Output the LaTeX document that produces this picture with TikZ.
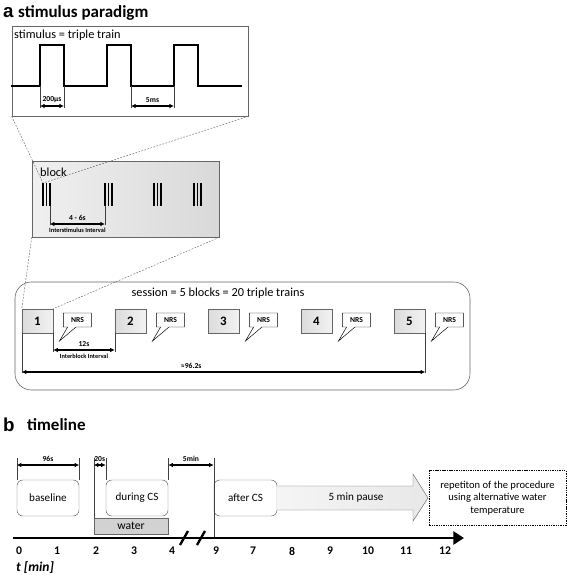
\documentclass[tikz,border=0pt]{standalone}
\usepackage{fontspec}
\setmainfont{Carlito}
\newfontfamily\arialfont{Liberation Sans}
\usetikzlibrary{positioning,shapes.callouts,arrows.meta}

\tikzset{
    dimarrow/.style={{Latex[length=4pt,width=4pt]}-{Latex[length=4pt,width=4pt]}, line width=1.1pt},
    guide/.style={black!75, line width=0.4pt},
    zoomline/.style={gray!80!black, line width=0.4pt, dash pattern=on 1.5pt off 1.2pt},
    frame/.style={draw=gray!80!black, line width=0.5pt},
    blockbox/.style={draw=gray!80!black, left color=gray!28, right color=gray!10, minimum width=0.93cm, minimum height=0.72cm, font=\fontsize{11}{12}\selectfont\bfseries},
    nrs/.style={rectangle callout, draw, fill=white, minimum width=0.84cm, minimum height=0.42cm, inner sep=1pt, font=\fontsize{6.5}{7}\selectfont\bfseries},
    phase/.style={draw=gray!80!black, rounded corners=5pt, minimum width=1.86cm, minimum height=1.08cm, font=\fontsize{9.5}{11}\selectfont},
    small/.style={font=\fontsize{6.5}{7}\selectfont\bfseries, inner sep=0.5pt},
    tiny/.style={font=\fontsize{5.4}{6}\selectfont\bfseries, inner sep=0.5pt},
    title/.style={font=\fontsize{14.5}{16}\selectfont\bfseries, anchor=west, inner sep=0pt},
    headlbl/.style={font=\fontsize{16}{18}\selectfont\bfseries\arialfont, anchor=west, inner sep=0pt},
    tick/.style={font=\fontsize{10}{11}\selectfont\bfseries, inner sep=0pt},
}

\begin{document}
\begin{tikzpicture}[x=0.03cm, y=-0.03cm]
    \useasboundingbox (0,0) rectangle (567,575);

    % a: stimulus paradigm
    \node[headlbl] (lbla) at (3,13) {a};
    \node[title] (ttla) at (18,13) {stimulus paradigm};

    \node[frame, minimum width=7.08cm, minimum height=2.7cm] (stimbox) at (130,71) {};
    \node[anchor=west, inner sep=0pt, font=\fontsize{10.5}{12}\selectfont] (stimtxt) at (14,35) {stimulus = triple train};
    \draw[line width=1.3pt] (11,86) -| (40,45) -| (64,86) -| (107,45) -| (131,86) -| (174,45) -| (198,86) -- (242,86);
    \foreach \xx in {40,64,131,174}{
        \draw[guide] (\xx,86) -- (\xx,108);
    }
    \coordinate (p1) at (40,106); \coordinate (p2) at (64,106);
    \coordinate (p3) at (131,106); \coordinate (p4) at (174,106);
    \draw[dimarrow] (p1) -- node[small, above=1.5pt] {200µs} (p2);
    \draw[dimarrow] (p3) -- node[small, above=1.5pt] {5ms} (p4);

    % block
    \node[frame, left color=gray!12, right color=gray!30, minimum width=5.61cm, minimum height=2.28cm] (blockbox) at (125.5,199) {};
    \node[anchor=west, inner sep=0pt, font=\fontsize{10.5}{12}\selectfont] (blocktxt) at (40,172) {block};
    \foreach \g in {43,105,154,194}{
        \foreach \k in {0,3.4,6.8}{
            \draw[line width=1.2pt] (\g+\k,183) -- (\g+\k,206);
        }
    }
    \coordinate (bar1) at (43,183);
    \draw[zoomline] (stimbox.south west) -- (bar1);
    \draw[zoomline] (stimbox.south east) -- (bar1);
    \coordinate (i1) at (49.8,224); \coordinate (i2) at (105,224);
    \draw[guide] (49.8,206) -- (49.8,225);
    \draw[guide] (105,206) -- (105,225);
    \draw[dimarrow] (i1) -- node[small, above=2pt] {4 - 6s} node[tiny, below=2.5pt] {Interstimulus Interval} (i2);

    % session
    \node[frame, rounded corners=14pt, minimum width=13.65cm, minimum height=3.24cm] (sessbox) at (242.5,336) {};
    \node[font=\fontsize{10.5}{12}\selectfont, inner sep=0pt] (sesstxt) at (218,293) {session = 5 blocks = 20 triple trains};
    \foreach \i in {1,...,5}{
        \node[blockbox] (blk\i) at ({37.5+93*(\i-1)},321) {\i};
        \node[nrs, right=0.3cm of blk\i, yshift=0.03cm, callout relative pointer={(-0.36cm,-0.42cm)}] (nrs\i) {NRS};
    }
    \draw[zoomline] (blockbox.south west) -- (blk1.north west);
    \draw[zoomline] (blockbox.south east) -- (blk1.north east);

    \draw[guide] (blk1.south east) -- (blk1.south east |- 0,352);
    \draw[guide] (blk2.south west) -- (blk2.south west |- 0,352);
    \draw[dimarrow] (blk1.south east |- 0,350) -- node[small, above=2pt] {12s} node[tiny, below=2.5pt] {Interblock Interval} (blk2.south west |- 0,350);
    \draw[guide] (blk1.south west) -- (blk1.south west |- 0,373);
    \draw[guide] (blk5.south east) -- (blk5.south east |- 0,373);
    \draw[dimarrow] (blk1.south west |- 0,372) -- node[small, above=1.5pt, pos=0.42] {≈96.2s} (blk5.south east |- 0,372);

    % b: timeline
    \node[headlbl] (lblb) at (3,425) {b};
    \node[title] (ttlb) at (27,425) {timeline};

    \node[phase] (base) at (48,498) {baseline};
    \node[phase] (during) at (137,498) {during CS};
    \node[phase, minimum width=1.89cm] (after) at (245.5,498) {after CS};
    \node[draw=gray!80!black, fill=gray!35, minimum width=2.22cm, minimum height=0.48cm, inner sep=0pt, font=\fontsize{10}{11}\selectfont] (water) at (131,526) {water};

    \draw[guide] (base.north west) -- (base.north west |- 0,458);
    \draw[guide] (base.north east) -- (base.north east |- 0,458);
    \draw[guide] (water.north west) -- (water.north west |- 0,458);
    \draw[guide] (during.north west) -- (during.north west |- 0,458);
    \draw[guide] (during.north east) -- (during.north east |- 0,458);
    \draw[guide] (after.north west |- 0,538) -- (after.north west |- 0,458);
    \draw[dimarrow] (base.north west |- 0,465) -- node[small, above=1.5pt] {96s} (base.north east |- 0,465);
    \draw[dimarrow] (water.north west |- 0,465) -- node[small, above=1.5pt] {20s} (during.north west |- 0,465);
    \draw[dimarrow] (during.north east |- 0,465) -- node[small, above=1.5pt] {5min} (after.north west |- 0,465);

    % pause arrow
    \draw[draw=gray!80!black, left color=gray!8, right color=gray!18] (after.east |- 0,486) -- (413,486) -- (413,474) -- (428,498) -- (413,521) -- (413,510) -- (after.east |- 0,510);
    \node[font=\fontsize{9.5}{11}\selectfont] (pause) at (356,498) {5 min pause};
    \node[draw, dashed, dash pattern=on 1.2pt off 0.8pt, minimum width=4.1cm, minimum height=1.65cm, align=center, font=\fontsize{9}{10.5}\selectfont] (repeat) at (497.5,498) {repetiton of the procedure\\using alternative water\\temperature};

    % axis
    \coordinate (ax0) at (13,538); \coordinate (ax1) at (464,538);
    \draw[line width=2.4pt, -{Triangle[length=9pt,width=11pt]}] (ax0) -- (ax1);
    \draw[line width=2pt] (180,545) -- (188,531) (197,545) -- (205,531);
    \foreach \lab/\xx in {0/19,1/57,2/96,3/134,4/172,9/216,7/253,8/292,9/330,10/368,11/406,12/445}{
        \node[tick] at (\xx,551) {\lab};
    }
    \node[font=\fontsize{11.5}{13}\selectfont\bfseries\itshape, anchor=west, inner sep=0pt] (tunit) at (16,568) {t [min]};
\end{tikzpicture}
\end{document}
